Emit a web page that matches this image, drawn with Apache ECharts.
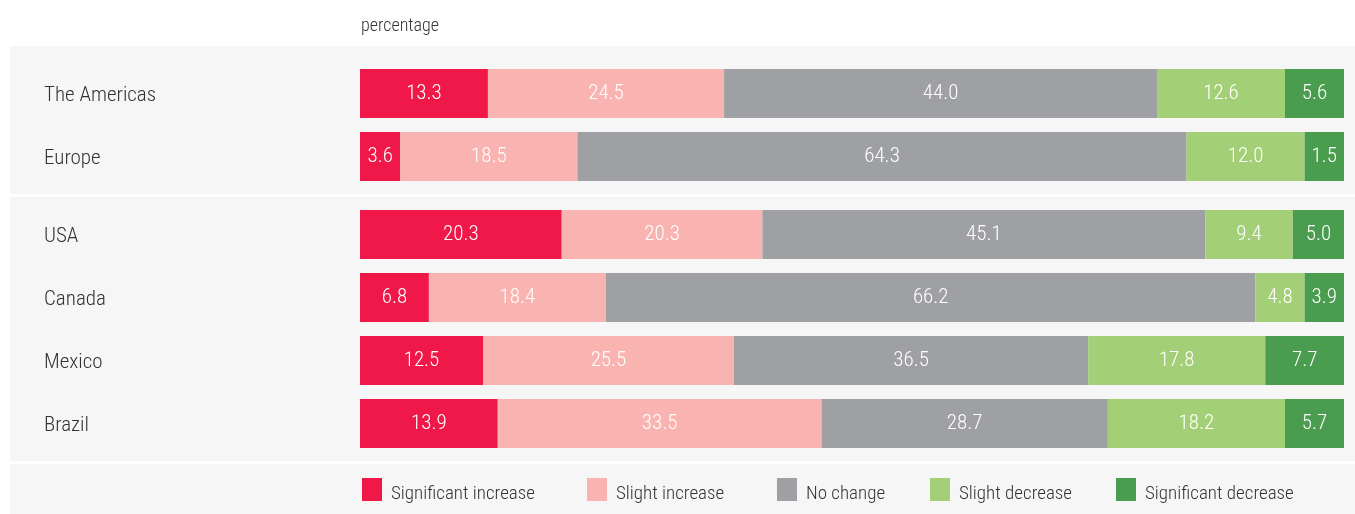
<!DOCTYPE html>
<html>
<head>
<meta charset="utf-8">
<script src="https://cdn.jsdelivr.net/npm/echarts@6/dist/echarts.min.js"></script>
<style>
  html, body { margin: 0; padding: 0; background: #fff; }
  #chart { width: 1355px; height: 514px; }
</style>
</head>
<body>
<div id="chart"></div>
<script>
// first two rows are the regions, the rest are countries
const labels = ['The Americas', 'Europe', 'USA', 'Canada', 'Mexico', 'Brazil'];
const seriesNames = ['Significant increase', 'Slight increase', 'No change', 'Slight decrease', 'Significant decrease'];

// printed values (percent)
const sigIncrease = [13.3, 3.6, 20.3, 6.8, 12.5, 13.9];
const slightIncrease = [24.5, 18.5, 20.3, 18.4, 25.5, 33.5];
const noChange = [44.0, 64.3, 45.1, 66.2, 36.5, 28.7];
const slightDecrease = [12.6, 12.0, 9.4, 4.8, 17.8, 18.2];
const sigDecrease = [5.6, 1.5, 5.0, 3.9, 7.7, 5.7];

// bar lengths as drawn in the picture (percent of the full bar)
const sigIncreaseLen = [13.0, 4.1, 20.5, 7.0, 12.5, 14.0];
const slightIncreaseLen = [24.0, 18.0, 20.4, 18.0, 25.5, 32.9];
const noChangeLen = [44.0, 61.9, 45.0, 66.0, 36.0, 29.1];
const slightDecreaseLen = [13.0, 12.0, 8.9, 5.0, 18.0, 18.0];
const sigDecreaseLen = [6.0, 4.0, 5.2, 4.0, 8.0, 6.0];

const colors = ['#ef1848', '#f9b4b1', '#9fa0a4', '#a3d077', '#4a9d4f'];
const font = "'Roboto Condensed', 'Liberation Sans Narrow', sans-serif";

const chart = echarts.init(document.getElementById('chart'));

const printed = [sigIncrease, slightIncrease, noChange, slightDecrease, sigDecrease];
const lengths = [sigIncreaseLen, slightIncreaseLen, noChangeLen, slightDecreaseLen, sigDecreaseLen];
const groups = [[0, 2], [2, 6]];

const series = [];
groups.forEach((g, gi) => {
    lengths.forEach((lens, si) => {
        const vals = printed[si].slice(g[0], g[1]);
        series.push({
            name: seriesNames[si],
            type: 'bar',
            stack: 'g' + gi,
            xAxisIndex: gi,
            yAxisIndex: gi,
            barWidth: 49,
            itemStyle: { color: colors[si] },
            label: {
                show: true,
                position: 'inside',
                color: '#fff',
                fontFamily: font,
                fontWeight: 300,
                fontSize: 21,
                formatter: p => vals[p.dataIndex].toFixed(1)
            },
            data: lens.slice(g[0], g[1])
        });
    });
});

const legendLeft = [362, 587, 777, 930, 1116];

const option = {
    animation: false,
    textStyle: { fontFamily: font },
    title: {
        text: 'percentage',
        left: 356,
        top: 12,
        textStyle: { fontFamily: font, fontSize: 18, fontWeight: 300, color: '#333' }
    },
    graphic: [
        { type: 'rect', z: -10, shape: { x: 10, y: 46, width: 1345, height: 148 }, style: { fill: '#f6f6f6' } },
        { type: 'rect', z: -10, shape: { x: 10, y: 197, width: 1345, height: 264 }, style: { fill: '#f6f6f6' } },
        { type: 'rect', z: -10, shape: { x: 10, y: 464, width: 1345, height: 50 }, style: { fill: '#f6f6f6' } }
    ],
    legend: seriesNames.map((name, i) => ({
        left: legendLeft[i] - 5,
        top: 473,
        itemWidth: 20,
        itemHeight: 23,
        icon: 'rect',
        selectedMode: false,
        formatter: n => '{t|' + n + '}',
        textStyle: {
            rich: {
                t: { fontFamily: font, fontWeight: 300, fontSize: 19, color: '#333', padding: [10, 0, 0, 4] }
            }
        },
        data: [name]
    })),
    grid: [
        { left: 360, right: 11, top: 62, height: 126 },
        { left: 360, right: 11, top: 203, height: 252 }
    ],
    xAxis: [0, 1].map(i => ({
        type: 'value', gridIndex: i, min: 0, max: 100, show: false
    })),
    yAxis: groups.map((g, i) => ({
        type: 'category',
        gridIndex: i,
        inverse: true,
        data: labels.slice(g[0], g[1]),
        axisLine: { show: false },
        axisTick: { show: false },
        axisLabel: {
            align: 'left',
            margin: 316,
            formatter: v => '{t|' + v + '}',
            rich: {
                t: { fontFamily: font, fontWeight: 300, fontSize: 21, color: '#333', padding: [4, 0, 0, 0] }
            }
        }
    })),
    series: series
};

chart.setOption(option);
window.addEventListener('resize', () => chart.resize());
</script>
</body>
</html>
